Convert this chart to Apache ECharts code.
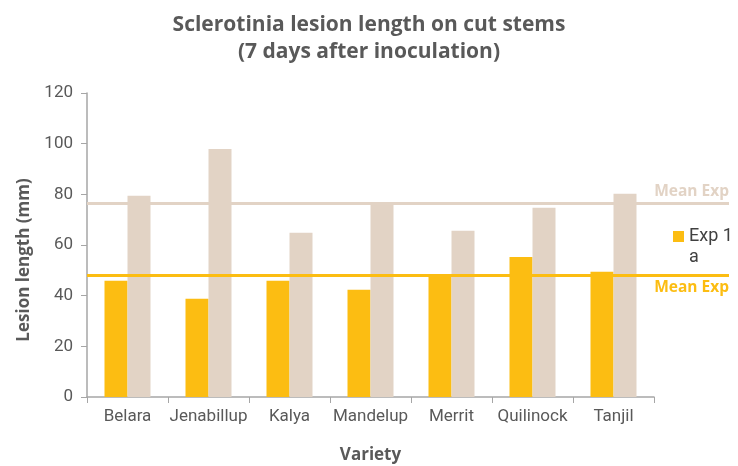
<!DOCTYPE html>
<html>
<head>
<meta charset="utf-8">
<script src="https://cdn.jsdelivr.net/npm/echarts@6/dist/echarts.min.js"></script>
<style>
	html, body { margin: 0; padding: 0; background: #fff; }
	#chart { width: 738px; height: 466px; }
</style>
</head>
<body>
<div id="chart"></div>
<script>
var varieties = ['Belara', 'Jenabillup', 'Kalya', 'Mandelup', 'Merrit', 'Quilinock', 'Tanjil'];
var exp1 = [45.9, 38.8, 45.9, 42.3, 48.2, 55.3, 49.4];
var exp2 = [79.4, 97.9, 64.8, 76.9, 65.6, 74.7, 80.2];
var meanExp1 = 48.0;
var meanExp2 = 76.5;

var yellow = '#FCBD12';
var beige = '#E2D3C5';
var textCol = '#595959';
var axisCol = '#A6A6A6';
var boldFont = 'Open Sans';
var labelFont = 'Roboto';

var chart = echarts.init(document.getElementById('chart'));

// mean lines live in a second, wider grid so they run past the plot area
function meanSeries (name, value, color, labelPos) {
	return {
		name: name,
		type: 'line',
		xAxisIndex: 1,
		yAxisIndex: 1,
		data: [],
		markLine: {
			silent: true,
			symbol: 'none',
			lineStyle: { color: color, width: 3, type: 'solid' },
			label: {
				show: true,
				position: labelPos,
				distance: [0, 4],
				color: color,
				fontFamily: boldFont,
				fontWeight: 'bold',
				fontSize: 15.5,
				formatter: 'Mean Exp'
			},
			data: [{ yAxis: value }]
		}
	};
}

var option = {
	backgroundColor: '#fff',
	animation: false,
	title: {
		text: 'Sclerotinia lesion length on cut stems\n(7 days after inoculation)',
		left: 'center',
		top: 7,
		textStyle: {
			color: textCol,
			fontFamily: boldFont,
			fontWeight: 'bold',
			fontSize: 21,
			lineHeight: 27
		}
	},
	legend: {
		data: [{ name: 'Exp 1\na' }],
		left: 673,
		top: 226,
		padding: 0,
		orient: 'vertical',
		itemWidth: 11,
		itemHeight: 32,
		itemGap: 4,
		// square sits at the top of a taller icon box, next to the first text line
		icon: 'path://M0,0L11,0L11,11L0,11Z M0,32L0.01,32',
		textStyle: { color: '#404040', fontFamily: labelFont, fontSize: 18, lineHeight: 21 }
	},
	grid: [
		{ left: 87, right: 84, top: 93, bottom: 69, outerBoundsMode: 'none' },
		{ left: 87, right: 9, top: 93, bottom: 69, outerBoundsMode: 'none' }
	],
	xAxis: [
		{
			type: 'category',
			data: varieties,
			name: 'Variety',
			nameLocation: 'middle',
			nameGap: 50,
			nameTextStyle: { color: textCol, fontFamily: boldFont, fontWeight: 'bold', fontSize: 17 },
			axisLine: { lineStyle: { color: axisCol, width: 1.5 } },
			axisTick: { show: true, interval: 0, length: 6, lineStyle: { color: axisCol } },
			axisLabel: { interval: 0, color: textCol, fontFamily: labelFont, fontSize: 17, margin: 11 }
		},
		{
			gridIndex: 1,
			type: 'value',
			min: 0,
			max: 1,
			show: false
		}
	],
	yAxis: [
		{
			type: 'value',
			min: 0,
			max: 120,
			interval: 20,
			name: 'Lesion length (mm)',
			nameLocation: 'middle',
			nameGap: 54,
			nameTextStyle: {
				color: textCol,
				fontFamily: boldFont,
				fontWeight: 'bold',
				fontSize: 17,
				padding: [0, 30, 0, 0]
			},
			axisLine: { show: true, lineStyle: { color: axisCol, width: 1.5 } },
			axisTick: { show: true, length: 6, lineStyle: { color: axisCol } },
			splitLine: { show: false },
			axisLabel: { color: textCol, fontFamily: labelFont, fontSize: 17, margin: 14 }
		},
		{
			gridIndex: 1,
			type: 'value',
			min: 0,
			max: 120,
			show: false
		}
	],
	series: [
		{
			name: 'Exp 1\na',
			type: 'bar',
			data: exp1,
			barWidth: 23,
			barGap: '0%',
			itemStyle: { color: yellow }
		},
		{
			name: 'Exp 2',
			type: 'bar',
			data: exp2,
			barWidth: 23,
			barGap: '0%',
			itemStyle: { color: beige }
		},
		meanSeries('Mean Exp 2', meanExp2, beige, 'insideEndTop'),
		meanSeries('Mean Exp 1', meanExp1, yellow, 'insideEndBottom')
	]
};

chart.setOption(option);
</script>
</body>
</html>
